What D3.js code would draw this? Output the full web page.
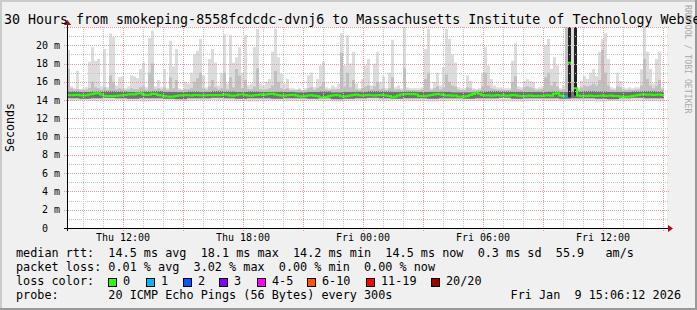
<!DOCTYPE html>
<html>
<head>
<meta charset="utf-8">
<script src="https://cdn.jsdelivr.net/npm/d3@7"></script>
<style>
  body { margin: 0; background: #fff; }
  svg { display: block; }
  text { font-family: "DejaVu Sans Mono", monospace; white-space: pre; }
</style>
</head>
<body>
<svg id="chart" width="697" height="310"></svg>
<script>
// 9 minute bins from Thu 09:12 (ms)
var median = [
  14.55,14.52,14.56,14.58,14.54,14.5,14.52,14.6,14.66,14.75,
  14.74,14.6,14.48,14.45,14.46,14.44,14.48,14.5,14.52,14.55,
  14.62,14.64,14.6,14.72,14.76,14.62,14.55,14.58,14.7,14.68,
  14.56,14.5,14.45,14.38,14.36,14.38,14.45,14.5,14.52,14.55,
  14.54,14.5,14.56,14.55,14.52,14.5,14.54,14.56,14.52,14.55,
  14.52,14.55,14.6,14.58,14.5,14.48,14.54,14.6,14.62,14.56,
  14.5,14.48,14.52,14.56,14.6,14.55,14.62,14.68,14.7,14.62,
  14.55,14.5,14.48,14.52,14.55,14.58,14.5,14.42,14.4,14.45,
  14.5,14.52,14.48,14.45,14.32,14.3,14.34,14.45,14.5,14.55,
  14.52,14.42,14.4,14.44,14.5,14.55,14.6,14.52,14.5,14.54,
  14.55,14.52,14.5,14.54,14.56,14.52,14.5,14.45,14.32,14.38,
  14.5,14.6,14.65,14.66,14.64,14.68,14.62,14.45,14.42,14.44,
  14.5,14.55,14.62,14.66,14.6,14.55,14.5,14.52,14.48,14.5,
  14.4,14.38,14.4,14.45,14.55,14.66,14.82,14.7,14.55,14.5,
  14.52,14.48,14.5,14.55,14.5,14.52,14.48,14.5,14.55,14.52,
  14.48,14.46,14.45,14.48,14.5,14.46,14.44,14.48,14.46,14.5,
  14.52,14.48,14.7,14.75,14.5,14.46,14.4,18.1,null,15.3,
  14.5,14.45,14.48,14.46,14.5,14.46,14.44,14.48,14.5,14.46,
  14.48,14.5,14.46,14.44,14.38,14.34,14.36,14.4,14.45,14.5,
  14.55,14.6,14.62,14.58,14.6,14.55,14.58,14.6,14.56
];
var pingMax = [
  19.5,15.5,15.3,17.2,15.2,15.3,15.4,18.2,19.8,18.3,
  18.5,15.5,19.6,15.4,21.3,20.9,15.6,16.5,16.6,15.3,
  15.5,16.7,16.6,16.4,17.4,18.1,15.4,20.8,21.6,15.5,
  16.2,15.4,17.4,15.3,20.5,17.7,19.6,15.3,15.2,16.0,
  15.8,17.0,19.0,19.4,20.7,16.7,15.4,18.5,19.6,18.1,
  15.6,17.0,21.2,15.8,21.1,18.1,18.7,19.8,17.0,21.1,
  15.6,15.8,19.8,21.8,15.8,15.6,16.0,16.3,19.3,21.8,
  18.7,16.9,15.8,16.3,15.3,15.3,15.2,15.3,15.1,15.3,
  16.7,17.0,15.4,16.3,17.8,18.2,15.4,15.3,15.6,15.4,
  15.8,21.3,17.8,21.1,18.0,19.3,15.8,15.3,16.3,17.8,
  18.5,15.6,18.0,19.3,16.0,16.6,15.3,17.0,20.6,15.4,
  15.6,15.3,22.0,15.4,15.3,15.3,15.3,15.3,15.4,19.6,
  21.8,15.3,16.0,17.0,15.6,17.6,21.8,20.7,19.0,18.1,
  15.4,15.3,15.3,16.7,16.1,15.3,15.2,15.3,17.0,19.8,
  17.8,16.3,15.6,15.4,15.4,15.3,15.3,15.3,18.3,20.2,
  15.5,15.4,16.1,16.3,16.1,16.0,15.3,15.4,15.5,20.0,
  20.7,17.4,18.7,17.8,15.3,15.6,24,24,24,24,
  15.4,16.1,16.6,16.3,17.0,17.4,16.6,19.3,20.7,21.3,
  18.5,15.4,15.3,17.0,16.1,15.4,15.3,15.4,15.3,15.4,
  15.4,17.4,22.0,19.3,17.4,15.8,18.5,19.3,15.4
];
var pingMid = [
  17.4,15.3,15.15,15.2,15.15,15.1,15.15,15.3,16.0,15.4,
  15.3,15.15,15.4,15.15,16.7,16.0,15.2,15.3,15.2,15.1,
  15.15,15.3,15.2,15.2,15.4,15.5,15.15,17.0,18.0,15.2,
  15.3,15.15,15.4,15.1,16.5,15.3,16.2,15.1,15.1,15.2,
  15.2,15.3,16.0,16.4,17.0,15.3,15.15,15.5,16.2,15.4,
  15.2,15.3,17.0,15.2,16.5,15.4,17.4,16.7,15.3,16.2,
  15.2,15.2,15.5,17.5,15.2,15.15,15.2,15.3,15.6,17.2,
  16.0,15.3,15.2,15.3,15.1,15.1,15.1,15.15,15.05,15.1,
  15.3,15.4,15.15,15.3,15.5,16.0,15.15,15.1,15.2,15.15,
  15.2,19.2,15.5,17.0,15.4,16.2,15.2,15.1,15.3,15.5,
  15.6,15.2,15.5,16.0,15.2,15.3,15.1,15.3,16.5,15.15,
  15.2,15.1,17.5,15.15,15.1,15.1,15.1,15.1,15.15,16.3,
  17.0,15.1,15.3,15.5,15.2,15.4,16.8,16.0,15.6,15.5,
  15.15,15.1,15.1,15.4,15.3,15.1,15.05,15.1,15.5,17.0,
  15.6,15.3,15.2,15.15,15.15,15.1,15.1,15.1,16.0,16.6,
  15.2,15.15,15.4,15.5,15.4,15.3,15.1,15.15,15.2,16.5,
  17.0,15.6,16.0,15.5,15.1,15.2,24,24,16.0,24,
  15.15,15.4,15.6,15.5,15.6,15.8,15.6,16.2,19.5,17.0,
  15.6,15.15,15.1,15.5,15.4,15.15,15.1,15.15,15.1,15.15,
  15.15,15.6,18.5,16.3,15.6,15.3,15.6,16.2,15.2
];
// 36 minute blocks (4 bins)
var pingMin = [
  13.9,13.95,13.9,13.95,14.0,13.9,13.85,13.9,13.95,13.9,
  13.9,13.95,14.0,13.95,13.9,13.85,13.9,13.95,13.9,13.9,
  13.95,13.9,13.85,13.9,13.95,14.0,13.9,13.95,13.9,13.9,
  13.85,13.9,13.95,13.9,13.9,13.95,13.9,13.85,13.9,13.95,
  13.9,13.9,13.95,13.9,13.85,13.9,13.9,13.95,13.9,13.9
];
var darkLo = [
  14.2,14.15,14.2,14.25,14.2,14.15,14.2,14.2,14.15,14.1,
  14.2,14.2,14.25,14.2,14.15,14.2,14.2,14.15,14.2,14.2,
  14.15,14.2,14.1,14.15,14.2,14.25,14.2,14.15,14.2,14.2,
  14.15,14.2,14.2,14.15,14.2,14.2,14.25,14.15,14.2,14.2,
  14.2,14.15,14.2,14.2,14.15,14.1,14.2,14.25,14.2,14.2
];
var darkHi = [
  14.95,14.9,14.95,15.0,14.95,14.9,14.95,15.0,14.9,14.88,
  14.95,14.9,15.0,14.95,14.9,14.95,14.9,14.92,14.9,14.85,
  14.9,14.95,14.85,14.9,14.92,15.0,14.95,14.9,14.95,14.9,
  14.9,14.92,14.85,14.85,14.95,15.0,14.95,14.92,14.9,14.9,
  14.95,14.88,14.95,15.0,14.95,14.9,14.9,14.95,15.0,14.95
];
// high latency bursts
var burstBins = [167, 169];
var burstTop = [24, 24];
var burstBase = [14.3, 14.5];
// bins with lost pings
var lossBins = [166];
var lossPings = [1];

var lossLabels = ["0", "1", "2", "3", "4-5", "6-10", "11-19", "20/20"];
var lossUpper = [0, 1, 2, 3, 5, 10, 19, 20];
var lossColors = ["#26ff00", "#00b8ff", "#0059ff", "#7e00ff", "#ff00ff", "#ff5500", "#ff0000", "#a00000"];

var yTicks = d3.range(0, 23);
var rttLine = "median rtt:  14.5 ms avg  18.1 ms max  14.2 ms min  14.5 ms now  0.3 ms sd  55.9   am/s";
var lossLine = "packet loss: 0.01 % avg  3.02 % max  0.00 % min  0.00 % now";
var probeLine = "probe:       20 ICMP Echo Pings (56 Bytes) every 300s";
var stampLine = "Fri Jan  9 15:06:12 2026";
var titleLine = "30 Hours from smokeping-8558fcdcdc-dvnj6 to Massachusetts Institute of Technology Webserver";

var START = new Date(2026, 0, 8, 9, 12);
function binTime(i){ return d3.timeMinute.offset(START, i * 9); }
function blockTime(j){ return d3.timeMinute.offset(START, Math.min(j * 36, median.length * 9)); }

var svg = d3.select("#chart");
var W = 697, H = 310;
var pL = 67, pR = 667, pT = 27, pB = 228;

var x = d3.scaleTime().domain([START, d3.timeHour.offset(START, 30)]).range([pL, pR]);
var y = d3.scaleLinear().domain([0, 22]).range([pB, pT]);

// background + 3d border
svg.append("rect").attr("width", W).attr("height", H).attr("fill", "#f0f0f0");
svg.append("rect").attr("x", 0).attr("y", 0).attr("width", W).attr("height", 2).attr("fill", "#cbcbcb");
svg.append("rect").attr("x", 0).attr("y", 0).attr("width", 2).attr("height", H).attr("fill", "#cbcbcb");
svg.append("rect").attr("x", 0).attr("y", H - 2).attr("width", W).attr("height", 2).attr("fill", "#999999");
svg.append("rect").attr("x", W - 2).attr("y", 0).attr("width", 2).attr("height", H).attr("fill", "#999999");

svg.append("rect").attr("x", pL).attr("y", pT).attr("width", pR - pL).attr("height", pB - pT).attr("fill", "#fff");

svg.append("clipPath").attr("id", "plotClip")
    .append("rect").attr("x", pL).attr("y", pT).attr("width", pR - pL).attr("height", pB - pT);

var plot = svg.append("g").attr("clip-path", "url(#plotClip)");

// smoke
plot.append("g").selectAll("rect")
    .data(pingMax).enter().append("rect")
    .attr("x", function(d, i){ return x(binTime(i)); })
    .attr("width", function(d, i){ return x(binTime(i + 1)) - x(binTime(i)); })
    .attr("y", function(d){ return y(d); })
    .attr("height", function(d, i){ return y(pingMin[Math.floor(i / 4)]) - y(d); })
    .attr("fill", "#dcdcdc");

plot.append("g").selectAll("rect")
    .data(pingMid).enter().append("rect")
    .attr("x", function(d, i){ return x(binTime(i)); })
    .attr("width", function(d, i){ return x(binTime(i + 1)) - x(binTime(i)); })
    .attr("y", function(d){ return y(d); })
    .attr("height", function(d, i){ return y(darkLo[Math.floor(i / 4)]) - y(d); })
    .attr("fill", "#c0c0c0");

plot.append("g").selectAll("rect")
    .data(darkHi).enter().append("rect")
    .attr("x", function(d, j){ return x(blockTime(j)); })
    .attr("width", function(d, j){ return x(blockTime(j + 1)) - x(blockTime(j)); })
    .attr("y", function(d){ return y(d); })
    .attr("height", function(d, j){ return y(darkLo[j]) - y(d); })
    .attr("fill", "#707070");

plot.append("g").selectAll("rect")
    .data(burstBins).enter().append("rect")
    .attr("x", function(b){ return x(binTime(b)); })
    .attr("width", function(b){ return x(binTime(b + 1)) - x(binTime(b)); })
    .attr("y", function(b, k){ return y(burstTop[k]); })
    .attr("height", function(b, k){ return y(burstBase[k]) - y(burstTop[k]); })
    .attr("fill", "#222");

// grid (on top like rrdtool)
var grid = svg.append("g").attr("fill", "none").attr("stroke-width", 1).attr("stroke-dasharray", "1,1");
var majorHours = x.ticks(d3.timeHour.every(3)).map(function(t){ return +t; });
var minorHours = x.ticks(d3.timeHour.every(1)).filter(function(t){ return majorHours.indexOf(+t) < 0; });

grid.selectAll("line.vmin").data(minorHours).enter().append("line")
    .attr("x1", function(t){ return Math.round(x(t)) + 0.5; })
    .attr("x2", function(t){ return Math.round(x(t)) + 0.5; })
    .attr("y1", pB).attr("y2", pT)
    .attr("stroke", "#c4c4c4");
grid.selectAll("line.vmaj").data(majorHours).enter().append("line")
    .attr("x1", function(t){ return Math.round(x(new Date(t))) + 0.5; })
    .attr("x2", function(t){ return Math.round(x(new Date(t))) + 0.5; })
    .attr("y1", pB + 3).attr("y2", pT)
    .attr("stroke", "#e89a9a");

grid.selectAll("line.hmin").data(yTicks.filter(function(v){ return v % 2 == 1; })).enter().append("line")
    .attr("x1", pL).attr("x2", pR + 2)
    .attr("y1", function(v){ return Math.round(y(v)) + 0.5; })
    .attr("y2", function(v){ return Math.round(y(v)) + 0.5; })
    .attr("stroke", "#c4c4c4");
grid.selectAll("line.hmaj").data(yTicks.filter(function(v){ return v % 2 == 0 && v > 0; })).enter().append("line")
    .attr("x1", pL - 3).attr("x2", pR + 2)
    .attr("y1", function(v){ return Math.round(y(v)) + 0.5; })
    .attr("y2", function(v){ return Math.round(y(v)) + 0.5; })
    .attr("stroke", "#e89a9a");

// median line coloured by loss
function lossIndex(i){
    var k = lossBins.indexOf(i);
    var lost = k < 0 ? 0 : lossPings[k];
    for (var c = 0; c < lossUpper.length; c++){
        if (lost <= lossUpper[c]) return c;
    }
    return lossUpper.length - 1;
}
lossColors.forEach(function(col, c){
    var p = d3.path(), any = false;
    for (var i = 0; i < median.length; i++){
        if (median[i] == null || lossIndex(i) != c) continue;
        var x0 = x(binTime(i)), x1 = x(binTime(i + 1)), yy = y(median[i]);
        if (i > 0 && median[i - 1] != null && lossIndex(i - 1) == c) p.lineTo(x0, yy);
        else p.moveTo(x0, yy);
        p.lineTo(x1, yy);
        any = true;
    }
    if (any){
        plot.append("path").attr("d", p.toString())
            .attr("fill", "none").attr("stroke", col).attr("stroke-width", 2);
    }
});

// axes
svg.append("line").attr("x1", pL - 3).attr("x2", pR + 3).attr("y1", pB + 0.5).attr("y2", pB + 0.5).attr("stroke", "#000");
svg.append("line").attr("x1", pL + 0.5).attr("x2", pL + 0.5).attr("y1", pB + 3).attr("y2", pT - 3).attr("stroke", "#000");
svg.append("path").attr("d", "M" + (pR + 6) + "," + (pB + 0.5) + "L" + (pR + 1) + "," + (pB - 3) + "L" + (pR + 1) + "," + (pB + 4) + "Z").attr("fill", "#a01010");
svg.append("path").attr("d", "M" + (pL + 0.5) + "," + (pT - 7) + "L" + (pL - 3) + "," + (pT - 2) + "L" + (pL + 4) + "," + (pT - 2) + "Z").attr("fill", "#a01010");

var fmt = d3.timeFormat("%a %H:%M");
svg.append("g").selectAll("text").data(x.ticks(d3.timeHour.every(6))).enter().append("text")
    .attr("x", function(t){ return x(t); })
    .attr("y", pB + 13)
    .attr("text-anchor", "middle")
    .attr("font-size", "10px")
    .text(function(t){ return fmt(t); });

svg.append("g").selectAll("text").data(yTicks.filter(function(v){ return v % 2 == 0 && v <= 20; })).enter().append("text")
    .attr("x", pL - 7)
    .attr("y", function(v){ return y(v) + 3.5; })
    .attr("text-anchor", "end")
    .attr("font-size", "10px")
    .text(function(v){ return v == 0 ? "0  " : v + " m"; });

svg.append("text")
    .attr("transform", "translate(13.5," + ((pT + pB) / 2) + ") rotate(-90)")
    .attr("text-anchor", "middle")
    .attr("font-size", "11.6px")
    .text("Seconds");

svg.append("text")
    .attr("x", 4).attr("y", 24)
    .attr("font-size", "13.3px")
    .text(titleLine);

svg.append("text")
    .attr("transform", "translate(685,5) rotate(90)")
    .attr("font-size", "8.2px")
    .attr("fill", "#aaaaaa")
    .text("RRDTOOL / TOBI OETIKER");

// legend
var leg = svg.append("g").attr("font-size", "11.8px");
function put(txt, px, py){ leg.append("text").attr("x", px).attr("y", py).text(txt); }

put(rttLine, 16, 257);
put(lossLine, 16, 271);
put("loss color:", 16, 285);
var boxX = [108, 146, 183, 219, 257, 307, 366, 431];
lossLabels.forEach(function(lbl, k){
    leg.append("rect").attr("x", boxX[k] + 0.5).attr("y", 278.5).attr("width", 8).attr("height", 8)
        .attr("fill", lossColors[k]).attr("stroke", "#000");
    put(lbl, boxX[k] + 15, 285);
});
put(probeLine, 16, 299);
leg.append("text").attr("x", 681).attr("y", 299).attr("text-anchor", "end").text(stampLine);
</script>
</body>
</html>
